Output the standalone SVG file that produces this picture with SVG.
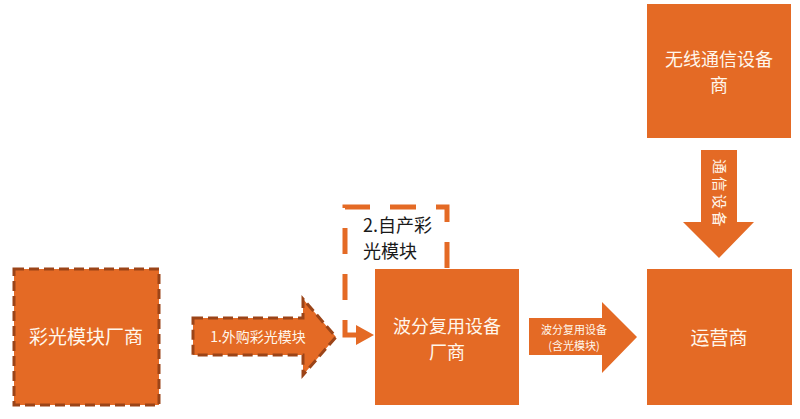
<svg xmlns="http://www.w3.org/2000/svg" width="800" height="419" viewBox="0 0 800 419">
  <style>
    .box { fill: #E46A25; }
    .lbl { font-family: "Noto Sans CJK SC", "Noto Sans", sans-serif; fill: #FFF7EC; text-anchor: middle; }
    .big { font-size: 19px; }
    .big2 { font-size: 18px; }
    .mid { font-size: 14px; }
    .sm { font-size: 11px; }
    .dark { font-family: "Noto Sans CJK SC", "Noto Sans", sans-serif; fill: #1a1a1a; font-size: 18px; }
  </style>
  <rect width="800" height="419" fill="#ffffff"/>

  <g id="node-caiguang">
    <rect class="box" x="14" y="269" width="145" height="136" stroke="#9B4418" stroke-width="3" stroke-dasharray="10 5"/>
    <text class="lbl big" x="86" y="344">彩光模块厂商</text>
  </g>

  <g id="node-bofen">
    <rect class="box" x="375" y="269" width="144" height="136"/>
    <text class="lbl big2" x="447" y="333">波分复用设备</text>
    <text class="lbl big2" x="447" y="359">厂商</text>
  </g>

  <g id="node-yunying">
    <rect class="box" x="647" y="269" width="145" height="136"/>
    <text class="lbl big" x="719" y="345">运营商</text>
  </g>

  <g id="node-wuxian">
    <rect class="box" x="647" y="4" width="144" height="134"/>
    <text class="lbl big2" x="719" y="66">无线通信设备</text>
    <text class="lbl big2" x="719" y="92">商</text>
  </g>

  <g id="connectors">
    <g id="arrow-waigou">
      <polygon class="box" points="193,318 303,318 303,299 336,337 303,375 303,355 193,355" stroke="#9B4418" stroke-width="3" stroke-dasharray="10 5"/>
      <text class="lbl mid" x="258" y="342">1.外购彩光模块</text>
    </g>
    <g id="arrow-zichan">
      <path d="M447,268 V207 H345 V335 H360" fill="none" stroke="#E46A25" stroke-width="5" stroke-dasharray="26 20"/>
      <polygon class="box" points="356,325 374,335 356,345"/>
      <text class="dark" x="363" y="232">2.自产彩</text>
      <text class="dark" x="363" y="258">光模块</text>
    </g>
    <g id="arrow-bofen">
      <polygon class="box" points="529,318 602,318 602,302 637,337 602,373 602,355 529,355"/>
      <text class="lbl sm" x="574" y="334">波分复用设备</text>
      <text class="lbl sm" x="574" y="350">(含光模块)</text>
    </g>
    <g id="arrow-tongxin">
      <polygon class="box" points="701,150 737,150 737,222 754,222 719,258 683,222 701,222"/>
      <text class="lbl" font-size="15" letter-spacing="2.5" transform="translate(719,194) rotate(90)" x="0" y="5">通信设备</text>
    </g>
  </g>
</svg>
